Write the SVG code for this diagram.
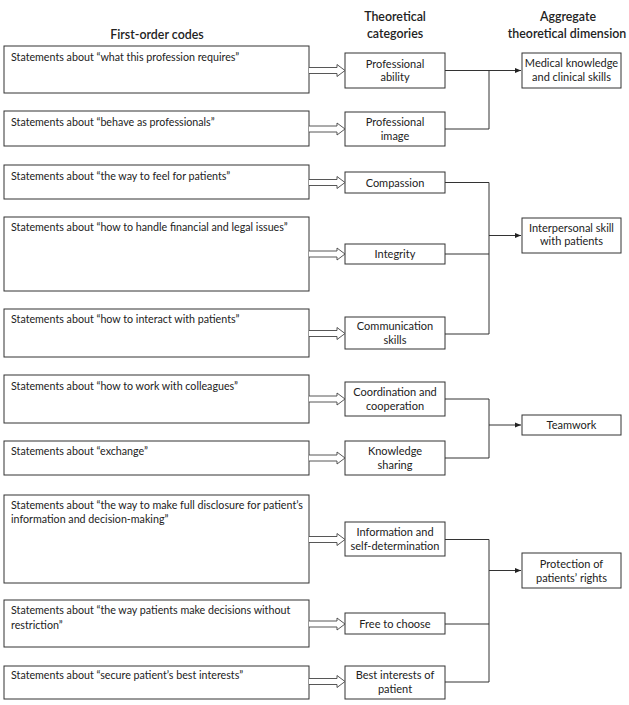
<svg xmlns="http://www.w3.org/2000/svg" width="629" height="705" viewBox="0 0 629 705">
<defs>
<style>
.bg{fill:#fff}
.box{fill:#fff;stroke:#333;stroke-width:1}
.t{font-family:Lato,"Noto Sans","Liberation Sans",sans-serif;font-size:10.7px;fill:#222}
.c{text-anchor:middle;font-size:11px}
.h{font-family:Lato,"Noto Sans","Liberation Sans",sans-serif;font-size:12.4px;font-weight:600;fill:#222;text-anchor:middle}
.ln{fill:none;stroke:#333;stroke-width:1}
.da{fill:#fff;stroke:#444;stroke-width:0.9}
</style>
<marker id="ah" markerWidth="6" markerHeight="6" refX="6" refY="3" orient="auto" markerUnits="userSpaceOnUse">
<path d="M0,0.5 L6,3 L0,5.5 Z" fill="#222"/>
</marker>
<symbol id="dbl" overflow="visible">
<path class="da" d="M309,-3 H337 V-6 L345,0 L337,6 V3 H309"/>
</symbol>
</defs>
<rect class="bg" x="0" y="0" width="629" height="705"/>
<g id="headers">
<text class="h" x="157" y="39">First-order codes</text>
<text class="h" x="395" y="21">Theoretical</text>
<text class="h" x="395" y="38">categories</text>
<text class="h" x="568" y="21">Aggregate</text>
<text class="h" x="567" y="38">theoretical dimension</text>
</g>
<g id="code1"><rect class="box" x="4" y="46" width="305" height="47"/><text class="t" x="11" y="60.5">Statements about “what this profession requires”</text></g>
<g id="code2"><rect class="box" x="4" y="111" width="305" height="35"/><text class="t" x="11" y="125.5">Statements about “behave as professionals”</text></g>
<g id="code3"><rect class="box" x="4" y="165" width="305" height="34"/><text class="t" x="11" y="179.5">Statements about “the way to feel for patients”</text></g>
<g id="code4"><rect class="box" x="4" y="217" width="305" height="74"/><text class="t" x="11" y="231">Statements about “how to handle financial and legal issues”</text></g>
<g id="code5"><rect class="box" x="4" y="309" width="305" height="48"/><text class="t" x="11" y="323">Statements about “how to interact with patients”</text></g>
<g id="code6"><rect class="box" x="4" y="375" width="305" height="48"/><text class="t" x="11" y="390">Statements about “how to work with colleagues”</text></g>
<g id="code7"><rect class="box" x="4" y="441" width="305" height="34"/><text class="t" x="11" y="455">Statements about “exchange”</text></g>
<g id="code8"><rect class="box" x="4" y="495" width="305" height="88"/><text class="t" x="11" y="509">Statements about “the way to make full disclosure for patient’s</text><text class="t" x="11" y="522.5">information and decision-making”</text></g>
<g id="code9"><rect class="box" x="4" y="600" width="305" height="47"/><text class="t" x="11" y="614">Statements about “the way patients make decisions without</text><text class="t" x="11" y="628.5">restriction”</text></g>
<g id="code10"><rect class="box" x="4" y="666" width="305" height="33"/><text class="t" x="11" y="678.5">Statements about “secure patient’s best interests”</text></g>

<g id="cat1"><rect class="box" x="345" y="53" width="100" height="35"/><text class="t c" x="395" y="67.5">Professional</text><text class="t c" x="395" y="81">ability</text></g>
<g id="cat2"><rect class="box" x="345" y="112" width="100" height="34"/><text class="t c" x="395" y="126">Professional</text><text class="t c" x="395" y="139.5">image</text></g>
<g id="cat3"><rect class="box" x="345" y="172" width="100" height="21"/><text class="t c" x="395" y="186.5">Compassion</text></g>
<g id="cat4"><rect class="box" x="345" y="244" width="100" height="20"/><text class="t c" x="395" y="258">Integrity</text></g>
<g id="cat5"><rect class="box" x="345" y="317" width="100" height="32"/><text class="t c" x="395" y="330">Communication</text><text class="t c" x="395" y="344">skills</text></g>
<g id="cat6"><rect class="box" x="345" y="382" width="100" height="34"/><text class="t c" x="395" y="396">Coordination and</text><text class="t c" x="395" y="409.5">cooperation</text></g>
<g id="cat7"><rect class="box" x="345" y="441" width="100" height="34"/><text class="t c" x="395" y="454.5">Knowledge</text><text class="t c" x="395" y="468.5">sharing</text></g>
<g id="cat8"><rect class="box" x="345" y="522" width="100" height="34"/><text class="t c" x="395" y="535.5">Information and</text><text class="t c" x="395" y="549.5">self-determination</text></g>
<g id="cat9"><rect class="box" x="345" y="613" width="100" height="21"/><text class="t c" x="395" y="627.5">Free to choose</text></g>
<g id="cat10"><rect class="box" x="345" y="666" width="100" height="33"/><text class="t c" x="395" y="678.5">Best interests of</text><text class="t c" x="395" y="693">patient</text></g>

<g id="agg1"><rect class="box" x="522" y="53" width="99" height="35"/><text class="t c" x="571.5" y="67">Medical knowledge</text><text class="t c" x="571.5" y="80.5">and clinical skills</text></g>
<g id="agg2"><rect class="box" x="522" y="218" width="99" height="35"/><text class="t c" x="571.5" y="232">Interpersonal skill</text><text class="t c" x="571.5" y="245">with patients</text></g>
<g id="agg3"><rect class="box" x="522" y="415" width="99" height="20"/><text class="t c" x="571.5" y="429">Teamwork</text></g>
<g id="agg4"><rect class="box" x="522" y="553" width="99" height="35"/><text class="t c" x="571.5" y="568">Protection of</text><text class="t c" x="571.5" y="582">patients’ rights</text></g>

<g id="connectors">
<use href="#dbl" x="0" y="70.5"/>
<use href="#dbl" x="0" y="129"/>
<use href="#dbl" x="0" y="182.5"/>
<use href="#dbl" x="0" y="254"/>
<use href="#dbl" x="0" y="333.5"/>
<use href="#dbl" x="0" y="399"/>
<use href="#dbl" x="0" y="458"/>
<use href="#dbl" x="0" y="539.5"/>
<use href="#dbl" x="0" y="624"/>
<use href="#dbl" x="0" y="681.5"/>
<path class="ln" d="M445,70.5 H489 V129 H445"/>
<path class="ln" d="M489,70.5 H521" marker-end="url(#ah)"/>
<path class="ln" d="M445,182.5 H489 V334 H445 M445,254 H489"/>
<path class="ln" d="M489,235.5 H521" marker-end="url(#ah)"/>
<path class="ln" d="M445,399 H489 V458 H445"/>
<path class="ln" d="M489,425 H521" marker-end="url(#ah)"/>
<path class="ln" d="M445,539.5 H489 V682 H445 M445,624 H489"/>
<path class="ln" d="M489,570.5 H521" marker-end="url(#ah)"/>
</g>
</svg>
